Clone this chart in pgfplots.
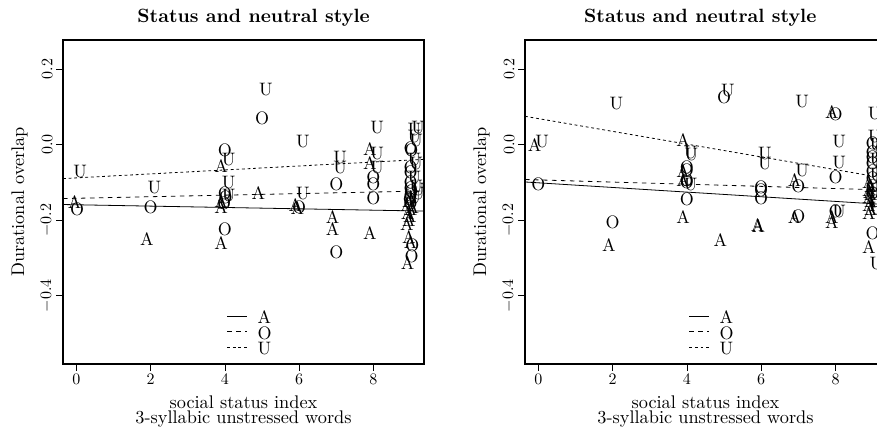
\documentclass[border=0pt]{standalone}
\usepackage{graphicx}
\usepackage{pgfplots}
\pgfplotsset{compat=1.18}
\newcommand{\tk}[1]{\scalebox{1.6}{$#1$}}
\newcommand{\lt}[1]{\scalebox{1.8}{#1}}
\pgfplotsset{
  panel/.style={
    width=361pt, height=324pt, scale only axis,
    xmin=-0.36, xmax=9.36, ymin=-0.581, ymax=0.277,
    xtick={0,2,4,6,8}, ytick={-0.4,-0.2,0,0.2},
    xticklabels={\tk{0},\tk{2},\tk{4},\tk{6},\tk{8}},
    yticklabels={\tk{-0.4},\tk{-0.2},\tk{0.0},\tk{0.2}},
    tick align=outside, tick pos=left,
    major tick length=7pt,
    every tick/.style={black, line width=0.8pt},
    axis line style={black, line width=1.3pt},
    tick label style={black},
    yticklabel style={rotate=90, anchor=south},
    legend style={draw=none, fill=none, inner sep=0pt, outer sep=0pt,
      at={(rel axis cs:0.454,0.1605)}, anchor=north west,
      row sep=0pt, column sep=10pt,
      nodes={inner sep=0pt, text height=12pt, text depth=3.5pt, anchor=base west}},
    legend cell align=left,
    legend image code/.code={\draw[##1] (0pt,8pt) -- (20pt,8pt);},
  },
  ltrA/.style={only marks, mark=text, text mark={\lt{A}}, text mark as node=true,
    text mark style={inner sep=0pt, black}, forget plot},
  ltrO/.style={only marks, mark=text, text mark={\lt{O}}, text mark as node=true,
    text mark style={inner sep=0pt, black}, forget plot},
  ltrU/.style={only marks, mark=text, text mark={\lt{U}}, text mark as node=true,
    text mark style={inner sep=0pt, black}, forget plot},
  lineA/.style={black, line width=0.8pt, no marks},
  lineO/.style={black, line width=0.8pt, no marks, dash pattern=on 4.5pt off 4.5pt},
  lineU/.style={black, line width=0.8pt, no marks, dash pattern=on 2.8pt off 2.8pt},
}
\begin{document}
\begin{tikzpicture}
\useasboundingbox (0pt,0pt) rectangle (877pt,430pt);
\clip (0pt,0pt) rectangle (877pt,430pt);

% ---------- left panel ----------
\begin{axis}[panel, at={(63pt,66pt)}, anchor=south west]
\addplot[ltrA] coordinates {
(-0.05,-0.152) (1.9,-0.251) (3.9,-0.057) (3.9,-0.150) (3.9,-0.165) (3.9,-0.260)
(4.9,-0.128) (5.9,-0.160) (5.95,-0.168) (6.9,-0.193) (6.9,-0.224)
(7.9,-0.011) (7.9,-0.050) (7.9,-0.235)
(8.95,-0.150) (8.9,-0.160) (9.0,-0.170) (8.92,-0.180) (8.98,-0.190) (8.9,-0.210)
(8.95,-0.244) (9.0,-0.257) (8.92,-0.315) (9.0,-0.140) (8.95,-0.200) (9.05,-0.165)
};
\addplot[ltrO] coordinates {
(0.02,-0.172) (2.0,-0.167) (4.0,-0.015) (4.0,-0.130) (4.02,-0.140) (3.98,-0.155)
(4.0,-0.225) (5.0,0.069) (6.0,-0.165) (7.0,-0.105) (7.0,-0.285)
(8.0,-0.086) (8.0,-0.105) (8.0,-0.143)
(9.0,-0.010) (9.02,-0.015) (9.0,-0.060) (9.0,-0.073) (9.0,-0.099) (9.0,-0.115)
(9.02,-0.125) (9.0,-0.135) (8.98,-0.145) (9.0,-0.155) (9.05,-0.266) (9.03,-0.297)
};
\addplot[ltrU] coordinates {
(0.1,-0.072) (2.1,-0.115) (4.1,-0.039) (4.1,-0.100) (4.1,-0.135) (5.1,0.146)
(6.1,0.009) (6.1,-0.130) (7.1,-0.033) (7.1,-0.062) (8.1,0.045) (8.1,-0.023) (8.1,-0.060)
(9.1,0.040) (9.2,0.045) (9.1,0.020) (9.15,0.010) (9.1,-0.040) (9.15,-0.050)
(9.1,-0.086) (9.15,-0.110) (9.2,-0.130) (9.1,-0.140) (9.2,-0.120)
};
\addplot[lineA] coordinates {(-0.36,-0.1587) (9.36,-0.1761)};
\addlegendentry{\lt{A}}
\addplot[lineO] coordinates {(-0.36,-0.1429) (9.36,-0.1228)};
\addlegendentry{\lt{O}}
\addplot[lineU] coordinates {(-0.36,-0.0900) (9.36,-0.0390)};
\addlegendentry{\lt{U}}
\end{axis}

% ---------- right panel ----------
\begin{axis}[panel, at={(525pt,66pt)}, anchor=south west]
\addplot[ltrA] coordinates {
(-0.1,-0.002) (1.9,-0.265) (3.9,0.013) (3.9,-0.070) (3.9,-0.094) (3.9,-0.193)
(4.9,-0.253) (5.9,-0.213) (5.92,-0.217) (6.9,-0.094) (6.9,-0.191)
(7.9,0.086) (7.9,-0.192) (7.9,-0.205)
(8.9,-0.100) (8.95,-0.110) (8.9,-0.120) (8.95,-0.130) (8.9,-0.140) (8.95,-0.150)
(8.9,-0.160) (8.95,-0.170) (8.9,-0.180) (8.92,-0.125) (8.9,-0.271)
};
\addplot[ltrO] coordinates {
(0.0,-0.105) (2.0,-0.207) (4.0,-0.059) (4.0,-0.068) (4.0,-0.094) (4.0,-0.100)
(4.0,-0.145) (5.0,0.126) (6.0,-0.112) (6.0,-0.120) (6.0,-0.143) (7.0,-0.110)
(7.0,-0.191) (8.0,0.079) (8.0,-0.086) (8.0,-0.176)
(9.0,0.003) (9.0,-0.020) (9.0,-0.035) (9.0,-0.050) (9.0,-0.072) (9.0,-0.089)
(9.0,-0.110) (9.0,-0.130) (9.0,-0.235)
};
\addplot[ltrU] coordinates {
(0.1,0.007) (2.1,0.108) (4.1,-0.020) (4.12,-0.027) (4.1,-0.106) (5.1,0.144)
(6.1,-0.024) (6.1,-0.050) (7.1,0.113) (7.1,-0.068) (8.1,0.007) (8.1,-0.048) (8.1,-0.176)
(9.05,0.083) (9.05,0.020) (9.1,0.000) (9.1,-0.040) (9.1,-0.080) (9.1,-0.120)
(9.05,-0.150) (9.1,-0.170) (9.1,-0.315)
};
\addplot[lineA] coordinates {(-0.36,-0.0990) (9.36,-0.1588)};
\addlegendentry{\lt{A}}
\addplot[lineO] coordinates {(-0.36,-0.0925) (9.36,-0.1202)};
\addlegendentry{\lt{O}}
\addplot[lineU] coordinates {(-0.36,0.0749) (9.36,-0.0894)};
\addlegendentry{\lt{U}}
\end{axis}

% ---------- titles and axis labels ----------
\node[anchor=base] at (253.6pt,407.3pt) {\scalebox{1.92}{\bfseries Status and neutral style}};
\node[anchor=base] at (700.3pt,407.3pt) {\scalebox{1.92}{\bfseries Status and neutral style}};
\foreach \cx in {243.5,705.5}{
  \node[anchor=base] at (\cx pt,21.7pt) {\scalebox{1.83}{social status index}};
  \node[anchor=base] at (\cx pt,6.7pt) {\scalebox{1.83}{3-syllabic unstressed words}};
}
\node[anchor=base, rotate=90] at (24pt,228pt) {\scalebox{1.83}{Durational overlap}};
\node[anchor=base, rotate=90] at (486pt,228pt) {\scalebox{1.83}{Durational overlap}};
\end{tikzpicture}
\end{document}
